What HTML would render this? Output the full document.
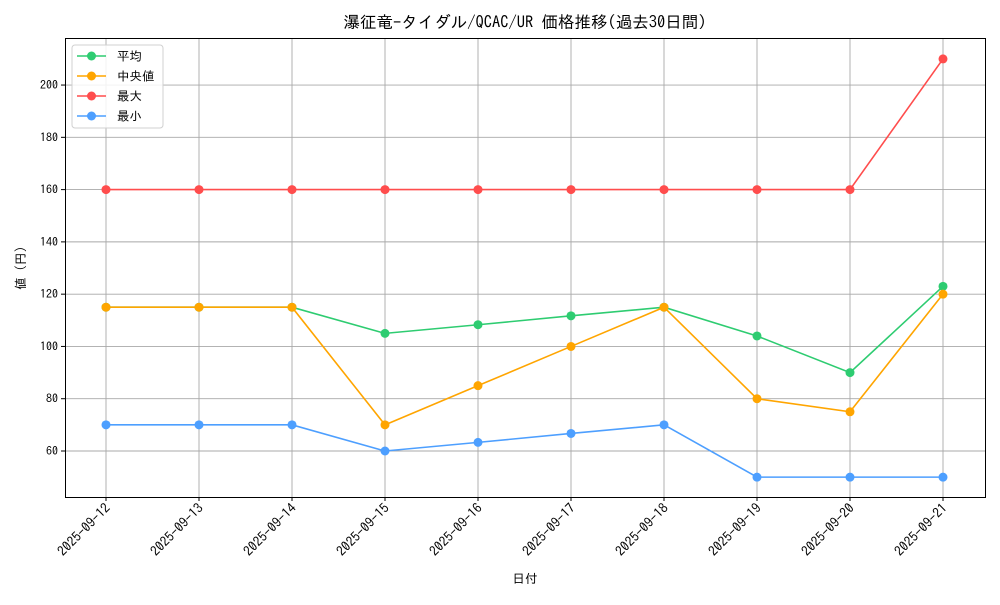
<!DOCTYPE html>
<html><head><meta charset="utf-8"><style>
body{margin:0;background:#fff;}
svg{font-family:"IPAGothic","Liberation Sans","Noto Sans CJK JP",sans-serif;}
</style></head><body>
<svg id="chart" width="1000" height="600" viewBox="0 0 1000 600" xmlns="http://www.w3.org/2000/svg">
<rect width="1000" height="600" fill="#fff"/>
<g id="grid"></g>
<g id="series"></g>
<rect x="65.5" y="38.5" width="920" height="459" fill="none" stroke="#000" stroke-width="1"/>
<g id="axes" font-size="12"></g>
<text x="525" y="28" text-anchor="middle" font-size="16.5">瀑征竜-タイダル/QCAC/UR 価格推移(過去30日間)</text>
<text x="525" y="583" text-anchor="middle" font-size="12.5">日付</text>
<text x="25" y="268" text-anchor="middle" font-size="12.5" transform="rotate(-90 25 268)">値 (円)</text>
<g id="legend"></g>
</svg>
<script>
const categories=["2025-09-12","2025-09-13","2025-09-14","2025-09-15","2025-09-16","2025-09-17","2025-09-18","2025-09-19","2025-09-20","2025-09-21"];
const meanVals=[115,115,115,105,108.3,111.7,115,104,90,123];
const medianVals=[115,115,115,70,85,100,115,80,75,120];
const maxVals=[160,160,160,160,160,160,160,160,160,210];
const minVals=[70,70,70,60,63.3,66.7,70,50,50,50];
const yTicks=[60,80,100,120,140,160,180,200];
const seriesNames=["平均","中央値","最大","最小"];
const colors=["#2ecc71","#ffa500","#ff4d4d","#4d9fff"];
const NS="http://www.w3.org/2000/svg";
const L=65,R=985,T=38,B=497;
const yMin=42.4,yMax=218;
const x=i=>106+i*(943-106)/(categories.length-1);
const y=v=>B-(v-yMin)/(yMax-yMin)*(B-T);
function mk(tag,attrs,parent){const e=document.createElementNS(NS,tag);for(const k in attrs)e.setAttribute(k,attrs[k]);parent.appendChild(e);return e;}
const grid=document.getElementById('grid'),axes=document.getElementById('axes'),ser=document.getElementById('series'),leg=document.getElementById('legend');
categories.forEach((c,i)=>{
 const g=mk('line',{x1:x(i),x2:x(i),y1:T,y2:B,stroke:'#a8a8a8','stroke-width':0.9},grid);
 
 
 const t=mk('line',{x1:x(i),x2:x(i),y1:B,y2:B+4,stroke:'#000'},axes);
 
 
 const tx=mk('text',{x:x(i)+5,y:B+12,'text-anchor':'end','font-size':13.5,transform:`rotate(-45 ${x(i)+5} ${B+12})`},axes);
 tx.textContent=c;
 
 
});
yTicks.forEach(v=>{
 const g=mk('line',{x1:L,x2:R,y1:y(v),y2:y(v),stroke:'#a8a8a8','stroke-width':0.9},grid);
 
 
 const t=mk('line',{x1:L-4,x2:L,y1:y(v),y2:y(v),stroke:'#000'},axes);
 
 
 const tx=mk('text',{x:L-7,y:y(v)+4,'text-anchor':'end'},axes);
 tx.textContent=v;
 
 
});
[meanVals,medianVals,maxVals,minVals].forEach((vals,s)=>{
 const p=mk('polyline',{points:vals.map((v,i)=>x(i)+','+y(v)).join(' '),fill:'none',stroke:colors[s],'stroke-width':1.6},ser);
 
 
 vals.forEach((v,i)=>{
  const c=mk('circle',{cx:x(i),cy:y(v),r:4.5,fill:colors[s]},ser);
  
  
 });
});
const box=mk('rect',{x:72,y:45,width:91,height:83,rx:3,fill:'#fff','fill-opacity':0.85,stroke:'#d0d0d0'},leg);


seriesNames.forEach((n,s)=>{
 const yy=56+s*20;
 const ln=mk('line',{x1:77,x2:106,y1:yy,y2:yy,stroke:colors[s],'stroke-width':1.6},leg);
 
 
 const c=mk('circle',{cx:91.5,cy:yy,r:4.5,fill:colors[s]},leg);
 
 
 const t=mk('text',{x:117,y:yy+4.5,'font-size':12.5},leg);
 t.textContent=n;
 
 
});
</script>
</body></html>
